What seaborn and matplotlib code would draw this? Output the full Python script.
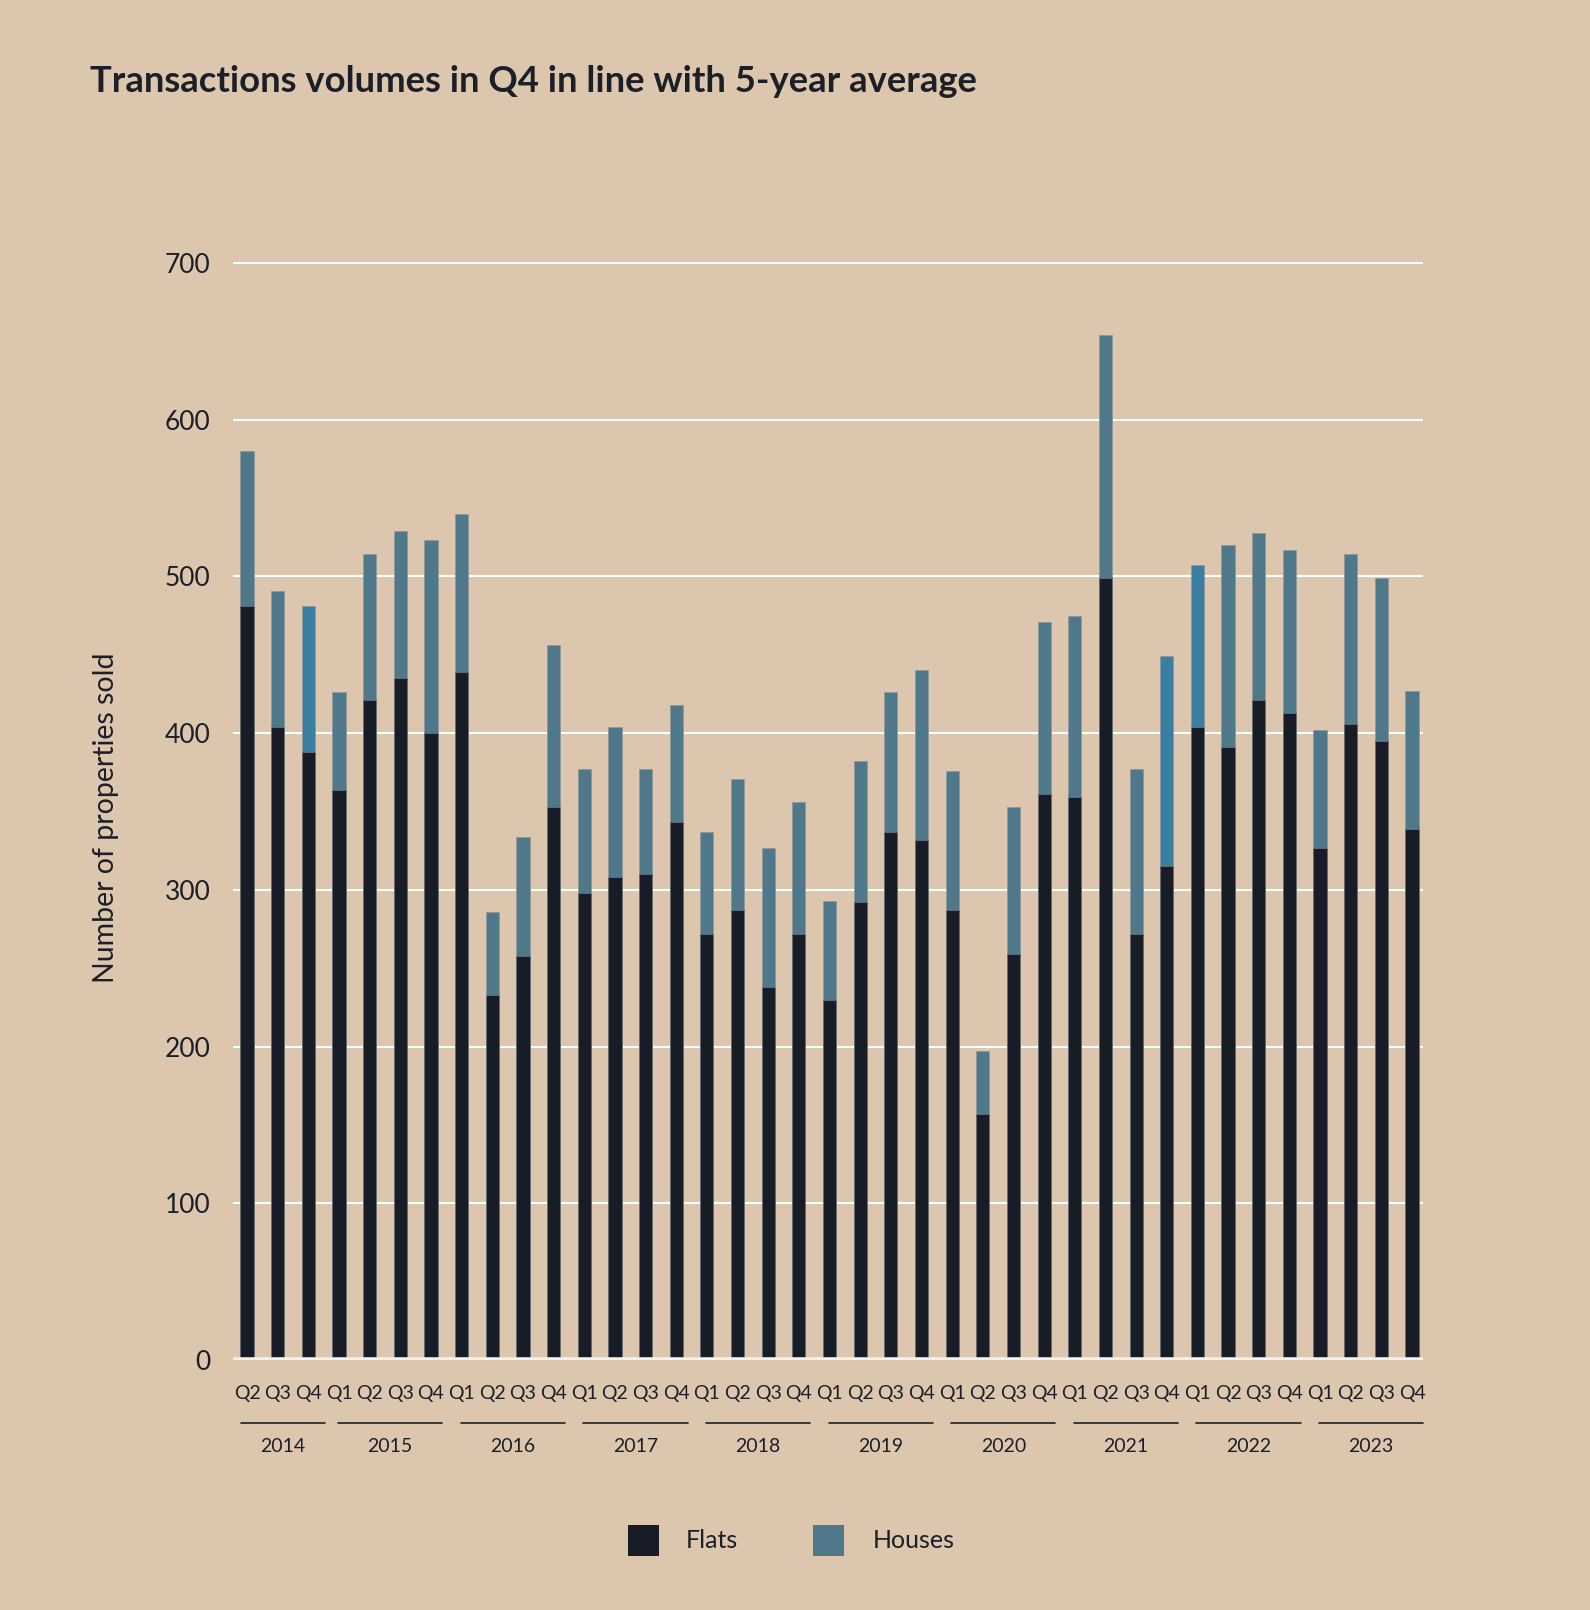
import numpy as np
import pandas as pd
import matplotlib
matplotlib.use("Agg")
import matplotlib.pyplot as plt
import seaborn as sns
from matplotlib.patches import Rectangle

# ---- data ----
quarters = ["Q2", "Q3", "Q4"] + ["Q1", "Q2", "Q3", "Q4"] * 9
years = ["2014"] * 3 + [str(y) for y in range(2015, 2024) for _ in range(4)]
flats = [481, 404, 388,
         364, 421, 435, 400,
         439, 233, 258, 353,
         298, 308, 310, 343,
         272, 287, 238, 272,
         230, 292, 337, 332,
         287, 157, 259, 361,
         359, 499, 272, 315,
         404, 391, 421, 413,
         327, 406, 395, 339]
totals = [580, 491, 481,
          426, 514, 529, 523,
          540, 286, 334, 456,
          377, 404, 377, 418,
          337, 371, 327, 356,
          293, 382, 426, 440,
          376, 197, 353, 471,
          475, 654, 377, 449,
          507, 520, 528, 517,
          402, 514, 499, 427]
highlighted = ["2014 Q4", "2021 Q4", "2022 Q1"]
year_labels = ["2014", "2015", "2016", "2017", "2018", "2019", "2020", "2021", "2022", "2023"]
y_ticks = [0, 100, 200, 300, 400, 500, 600, 700]

# ---- style ----
BG = "#dcc7ae"
FLAT = "#171c27"
HOUSE = "#50788b"
HILITE = "#3a7ea2"
TXT = "#1b1f28"

sns.set_theme(style="white")
plt.rcParams["font.family"] = ["Lato", "DejaVu Sans"]

keys = [f"{y} {q}" for y, q in zip(years, quarters)]
houses = [t - f for t, f in zip(totals, flats)]
df = pd.DataFrame({"key": keys, "year": years, "quarter": quarters,
                   "flats": flats, "houses": houses, "total": totals})
house_colors = {k: (HILITE if k in highlighted else HOUSE) for k in keys}

fig = plt.figure(figsize=(15.9, 16.1), dpi=100, facecolor=BG)
ax = fig.add_axes([0.1465, 0.1553, 0.895 - 0.1465, 0.8464 - 0.1553])
ax.set_facecolor(BG)

# grid lines
for t in y_ticks[1:]:
    ax.axhline(t, color="white", lw=1.5, zorder=0)

sns.barplot(data=df, x="key", y="total", hue="key", palette=house_colors,
            order=keys, width=0.43, legend=False, ax=ax, zorder=2,
            edgecolor="#8f979b", linewidth=0.6, saturation=1)
sns.barplot(data=df, x="key", y="flats", color=FLAT, order=keys,
            width=0.43, ax=ax, zorder=3, edgecolor="#6b7075", linewidth=0.6,
            saturation=1)

ax.axhline(0, color="#f2f2f2", lw=4, zorder=4)

n = len(keys)
ax.set_xlim(-0.46, n - 1 + 0.36)
ax.set_ylim(0, 710)
for s in ax.spines.values():
    s.set_visible(False)
ax.set_yticks(y_ticks)
ax.set_yticklabels([str(t) for t in y_ticks], fontsize=19, color=TXT)
ax.tick_params(axis="y", length=0, pad=16)
ax.set_xticks(range(n))
ax.set_xticklabels(quarters, fontsize=14, color=TXT)
ax.tick_params(axis="x", length=0, pad=18)
ax.set_xlabel("")
ax.set_ylabel("Number of properties sold", fontsize=20.5, color=TXT)
ax.yaxis.set_label_coords(-0.096, 0.487)

# year group lines and labels
trans = ax.get_xaxis_transform()
for yl in year_labels:
    idx = [i for i, y in enumerate(years) if y == yl]
    center = np.mean(idx) + 0.17
    half = 1.7 if len(idx) == 4 else 1.37
    ax.plot([center - half, center + half], [-0.057, -0.057], transform=trans,
            color=TXT, lw=1.2, clip_on=False)
    ax.text(center, -0.078, yl, transform=trans, ha="center", va="center",
            fontsize=14, color=TXT)

# title
fig.text(90 / 1590, 1 - 82 / 1610, "Transactions volumes in Q4 in line with 5-year average",
         fontsize=26.2, fontweight="bold", color=TXT, ha="left", va="center")

# legend
for x0, col, lab, tx in [(628, FLAT, "Flats", 686), (813, HOUSE, "Houses", 873)]:
    fig.patches.append(Rectangle((x0 / 1590, 1 - 1556 / 1610), 31 / 1590, 31 / 1610,
                                 transform=fig.transFigure, facecolor=col,
                                 edgecolor="none"))
    fig.text(tx / 1590, 1 - 1540 / 1610, lab, fontsize=18, color=TXT,
             ha="left", va="center")

fig.savefig("out.png", dpi=100, facecolor=BG)
